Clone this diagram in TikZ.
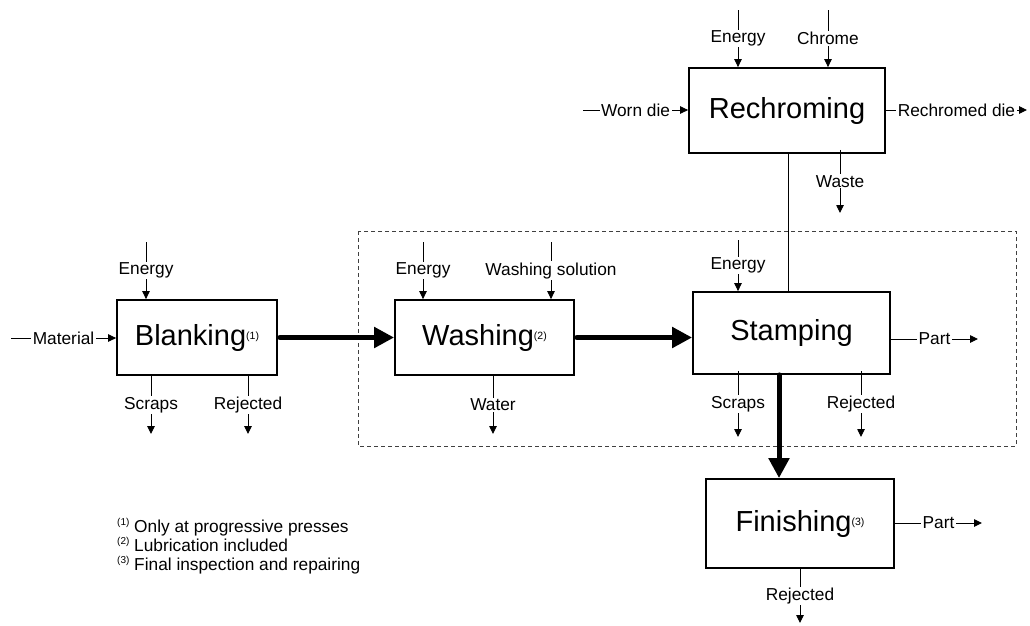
\documentclass[tikz,border=0pt]{standalone}
\usepackage{fontspec}
\setmainfont{Liberation Sans}
\usetikzlibrary{arrows.meta}

\newcommand{\fnmark}[1]{\raisebox{7pt}{\fontsize{10}{10}\selectfont(#1)}}
\newcommand{\boxmark}[1]{\raisebox{6pt}{\fontsize{10.5}{10.5}\selectfont(#1)}}

\begin{document}
\begin{tikzpicture}[x=1pt,y=-1pt,
  procbox/.style={draw,line width=1.8pt,minimum width=#1,inner sep=0pt,
    font=\fontsize{29}{32}\selectfont},
  flow/.style={line width=0.9pt,-{Triangle[length=8pt,width=7.5pt]}},
  bigflow/.style={line width=5pt,line cap=round,-{Triangle[length=20pt,width=20pt]}},
  lbl/.style={fill=white,inner xsep=1.5pt,inner ysep=1pt,font=\fontsize{17.3}{20}\selectfont},
  link/.style={line width=0.9pt},
  frame/.style={line width=0.9pt,black!75,dash pattern=on 4pt off 3pt}]
\useasboundingbox (0,0) rectangle (1030,625);

% process boxes
\node[procbox=160pt,minimum height=75pt] (blank) at (197,337.5) {Blanking\boxmark{1}};
\node[procbox=179pt,minimum height=75pt] (wash) at (484.5,337.5) {Washing\boxmark{2}};
\node[procbox=197pt,minimum height=82pt] (stamp) at (791.5,333) {Stamping};
\node[procbox=196pt,minimum height=85pt] (rechrom) at (787,110.5) {Rechroming};
\node[procbox=188pt,minimum height=89pt] (finish) at (800,523.5) {Finishing\boxmark{3}};

% dashed boundary around washing and stamping
\draw[frame] (358,231) rectangle (1016,446);

% main product flow
\draw[bigflow,shorten <=2pt] (blank.east) -- (wash.west);
\draw[bigflow,shorten <=2pt] (wash.east) -- (wash.east -| stamp.west);
\coordinate (sf) at (779,0);
\draw[bigflow] (stamp.south -| sf) -- (finish.north -| sf);

% die link between rechroming and stamping
\coordinate (rs) at (788,0);
\draw[link] (rechrom.south -| rs) -- (stamp.north -| rs);

% blanking
\coordinate (bE) at (146,242);
\coordinate (bM) at (11,338);
\coordinate (bS) at (151,434);
\coordinate (bR) at (248,434);
\draw[flow] (bE) -- node[lbl]{Energy} (bE |- blank.north);
\draw[flow] (bM) -- node[lbl]{Material} (bM -| blank.west);
\draw[flow] (bS |- blank.south) -- node[lbl]{Scraps} (bS);
\draw[flow] (bR |- blank.south) -- node[lbl]{Rejected} (bR);

% washing
\coordinate (wE) at (423,242);
\coordinate (wS) at (551,242);
\coordinate (wW) at (493,434);
\draw[flow] (wE) -- node[lbl]{Energy} (wE |- wash.north);
\draw[flow] (wS) -- node[lbl]{Washing solution} (wS |- wash.north);
\draw[flow] (wW |- wash.south) -- node[lbl]{Water} (wW);

% stamping
\coordinate (sE) at (738,240);
\coordinate (sS) at (738,437);
\coordinate (sR) at (861,437);
\coordinate (sP) at (978,339);
\draw[flow] (sE) -- node[lbl]{Energy} (sE |- stamp.north);
\draw[flow] ([yshift=4pt]sS |- stamp.south) -- node[lbl]{Scraps} (sS);
\draw[flow] ([yshift=4pt]sR |- stamp.south) -- node[lbl]{Rejected} (sR);
\draw[flow] (sP -| stamp.east) -- node[lbl]{Part} (sP);

% rechroming
\coordinate (rE) at (738,10);
\coordinate (rC) at (828,10);
\coordinate (rW) at (583,110);
\coordinate (rD) at (1027,110);
\coordinate (rX) at (840,213);
\draw[flow] (rE) -- node[lbl]{Energy} (rE |- rechrom.north);
\draw[flow] (rC) -- node[lbl]{Chrome} (rC |- rechrom.north);
\draw[flow] (rW) -- node[lbl]{Worn die} (rW -| rechrom.west);
\draw[flow] (rD -| rechrom.east) -- node[lbl]{Rechromed die} (rD);
\draw[flow] ([yshift=4pt]rX |- rechrom.south) -- node[lbl]{Waste} (rX);

% finishing
\coordinate (fP) at (982,523);
\coordinate (fR) at (800,623);
\draw[flow] (fP -| finish.east) -- node[lbl]{Part} (fP);
\draw[flow] (fR |- finish.south) -- node[lbl]{Rejected} (fR);

% footnotes
\node[anchor=west,align=left,inner sep=0pt,font=\fontsize{17.3}{19}\selectfont] (notes) at (117,546)
  {\fnmark{1} Only at progressive presses\\
   \fnmark{2} Lubrication included\\
   \fnmark{3} Final inspection and repairing};
\end{tikzpicture}
\end{document}
